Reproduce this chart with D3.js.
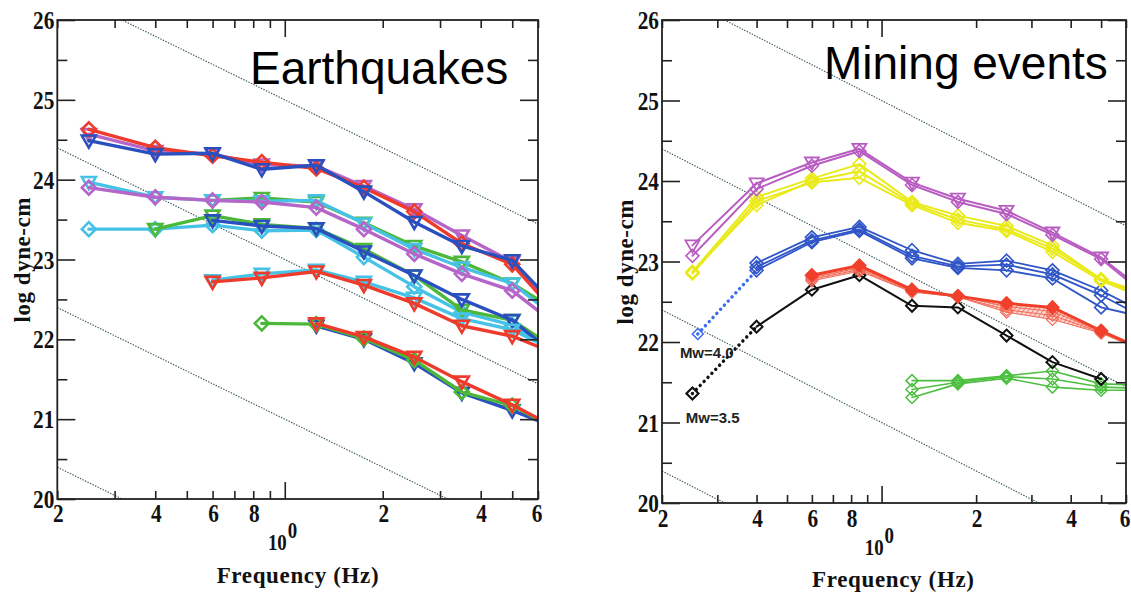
<!DOCTYPE html>
<html><head><meta charset="utf-8">
<script src="https://cdn.jsdelivr.net/npm/d3@7"></script>
<style>body{margin:0;background:#fff}svg{display:block}</style>
</head><body><svg id="c" width="1131" height="595"></svg>
<script>
// ---------- data ----------
const freqs = [0.25, 0.4, 0.6, 0.85, 1.25, 1.75, 2.5, 3.5, 5, 6];
const xMajorVals = [0.2, 0.4, 0.6, 0.8, 2, 4, 6];
const xMajorLabels = ["2", "4", "6", "8", "2", "4", "6"];
const xDecadeVals = [1];
const xMinorVals = [0.3, 0.5, 0.7, 0.9, 3, 5];
const yTickVals = [20, 21, 22, 23, 24, 25, 26];
const yHalfVals = [20.5, 21.5, 22.5, 23.5, 24.5, 25.5];
const refLevels = [25, 23, 21, 19];   // value at 1 Hz of the f^-2 guide lines
const refSlope = -2;

// Earthquakes
const eqRedA   = [24.63, 24.40, 24.30, 24.22, 24.14, 23.90, 23.60, 23.20, 22.94, 22.58];
const eqMagA   = [24.57, 24.36, 24.32, 24.19, 24.17, 23.92, 23.63, 23.30, 22.97, 22.62];
const eqBlueA  = [24.49, 24.32, 24.33, 24.13, 24.18, 23.85, 23.47, 23.17, 22.99, 22.65];
const eqGreenB = [null, null, 23.74, 23.77, 23.72, 23.46, 23.17, 22.97, 22.70, 22.50];
const eqCyanB  = [23.97, 23.78, 23.74, 23.73, 23.74, 23.45, 23.13, 22.90, 22.70, 22.45];
const eqMagB   = [23.90, 23.78, 23.74, 23.72, 23.65, 23.38, 23.07, 22.82, 22.61, 22.36];
const eqCyanC  = [23.38, 23.38, 23.43, 23.36, 23.37, 23.03, 22.66, 22.34, 22.18, 21.97];
const eqGreenC = [null, 23.38, 23.55, 23.44, 23.39, 23.13, 22.80, 22.37, 22.24, 22.03];
const eqBlueC  = [null, null, 23.49, 23.42, 23.39, 23.10, 22.80, 22.50, 22.24, 21.98];
const eqCyanD  = [null, null, 22.74, 22.82, 22.87, 22.72, 22.52, 22.26, 22.12, 21.96];
const eqRedD   = [null, null, 22.72, 22.77, 22.85, 22.68, 22.45, 22.17, 22.04, 21.91];
const eqBlueE  = [null, null, null, null, 22.17, 22.00, 21.70, 21.33, 21.11, 20.98];
const eqGreenE = [null, null, null, 22.20, 22.19, 22.01, 21.74, 21.34, 21.17, 21.00];
const eqRedE   = [null, null, null, null, 22.20, 22.03, 21.78, 21.47, 21.18, 21.01];

// Mining events
const mnGreen1 = [null, null, null, null, 21.52, 21.52, 21.58, 21.64, 21.48, 21.47];
const mnGreen2 = [null, null, null, null, 21.41, 21.50, 21.57, 21.54, 21.44, 21.43];
const mnGreen3 = [null, null, null, null, 21.31, 21.48, 21.55, 21.44, 21.40, 21.40];
const mnBlack  = [null, 22.19, 22.65, 22.83, 22.45, 22.43, 22.08, 21.75, 21.54, null];
const mnRed1   = [null, null, 22.83, 22.95, 22.65, 22.57, 22.48, 22.43, 22.14, 22.00];
const mnRed2   = [null, null, 22.80, 22.92, 22.64, 22.57, 22.44, 22.38, 22.13, 22.00];
const mnRed3   = [null, null, 22.78, 22.90, 22.63, 22.56, 22.40, 22.33, 22.12, 21.99];
const mnRed4   = [null, null, 22.76, 22.88, 22.62, 22.56, 22.37, 22.28, 22.11, 21.98];
const mnBlue1  = [null, 22.98, 23.30, 23.43, 23.14, 22.97, 23.01, 22.89, 22.64, 22.48];
const mnBlue2  = [null, 22.93, 23.26, 23.40, 23.07, 22.94, 22.96, 22.84, 22.58, 22.42];
const mnBlue3  = [null, 22.89, 23.24, 23.38, 23.04, 22.92, 22.89, 22.79, 22.43, 22.36];
const mnYellow1 = [22.87, 23.80, 24.03, 24.21, 23.74, 23.57, 23.44, 23.20, 22.78, 22.68];
const mnYellow2 = [22.87, 23.70, 24.00, 24.12, 23.72, 23.52, 23.40, 23.16, 22.78, 22.66];
const mnYellow3 = [22.85, 23.75, 23.98, 24.04, 23.70, 23.48, 23.38, 23.12, 22.76, 22.64];
const mnMag1   = [23.20, 23.97, 24.23, 24.40, 23.98, 23.78, 23.63, 23.36, 23.05, 22.81];
const mnMag2   = [23.07, 23.90, 24.19, 24.37, 23.95, 23.74, 23.59, 23.33, 23.03, 22.78];
// dotted extensions to the lowest frequency
const mnBlueDotF = [0.26, 0.4];
const mnBlueDot  = [22.10, 22.89];
const mnBlackDotF = [0.25, 0.4];
const mnBlackDot  = [21.36, 22.19];
const mwLabels = ["Mw=4.0", "Mw=3.5"];
const mwLabelPos = [[0.228, 21.80], [0.238, 21.00]];

// ---------- colours ----------
const C = {
  red: "#ee3b2b", mag: "#b665c8", blue: "#2a4fbf", cyan: "#45c2e6", green: "#4bb83a",
  mred: "#f0402c", mmag: "#b85cc2", myel: "#eaea1a", mblue: "#2f55c8", mgreen: "#4cbf40", black: "#111"
};

const svg = d3.select("#c");
svg.append("rect").attr("width", 1131).attr("height", 595).attr("fill", "#fff");
const defs = svg.append("defs");
const pat = defs.append("pattern").attr("id", "hatch").attr("patternUnits", "userSpaceOnUse")
  .attr("width", 4).attr("height", 4).attr("patternTransform", "rotate(35)");
pat.append("rect").attr("width", 4).attr("height", 4).attr("fill", "#fbd3cc");
pat.append("line").attr("x1", 0).attr("y1", 0).attr("x2", 0).attr("y2", 4)
  .attr("stroke", C.mred).attr("stroke-width", 1.3);

const serif = "'Liberation Serif','Times New Roman',serif";
const sans = "'Liberation Sans',Arial,Helvetica,sans-serif";

function panel(opt) {
  const x = d3.scaleLog().domain([0.2, 6]).range(opt.xr);
  const y = d3.scaleLinear().domain([20, 26]).range(opt.yr);
  const g = svg.append("g");
  const cid = "clip" + opt.id;
  defs.append("clipPath").attr("id", cid).append("rect")
    .attr("x", opt.xr[0]).attr("y", opt.yr[1]).attr("width", opt.xr[1] - opt.xr[0]).attr("height", opt.yr[0] - opt.yr[1]);
  const plot = g.append("g").attr("clip-path", `url(#${cid})`);

  // f^-2 guide lines
  const fLine = d3.range(0, 101).map(i => 0.2 * Math.pow(30, i / 100));
  refLevels.forEach(c => {
    plot.append("path")
      .attr("d", d3.line().x(f => x(f)).y(f => y(c + refSlope * Math.log10(f)))(fLine))
      .attr("fill", "none").attr("stroke", "#3d5d62").attr("stroke-width", 1.2)
      .attr("stroke-dasharray", "1.4 1.4");
  });

  // axes
  const H = opt.yr[0], T = opt.yr[1], L = opt.xr[0], R = opt.xr[1];
  const axStyle = sel => { sel.select(".domain").remove(); sel.selectAll("line").attr("stroke", "#222").attr("stroke-width", 1.6); sel.selectAll("text").remove(); };
  g.append("g").attr("transform", `translate(0,${H})`).call(d3.axisBottom(x).tickValues(xMajorVals.concat(xMinorVals)).tickSize(-8)).call(axStyle);
  g.append("g").attr("transform", `translate(0,${H})`).call(d3.axisBottom(x).tickValues(xDecadeVals).tickSize(-17)).call(axStyle);
  g.append("g").attr("transform", `translate(0,${T})`).call(d3.axisTop(x).tickValues(xMajorVals.concat(xMinorVals)).tickSize(-8)).call(axStyle);
  g.append("g").attr("transform", `translate(0,${T})`).call(d3.axisTop(x).tickValues(xDecadeVals).tickSize(-17)).call(axStyle);
  g.append("g").attr("transform", `translate(${L},0)`).call(d3.axisLeft(y).tickValues(yTickVals).tickSize(-18)).call(axStyle);
  g.append("g").attr("transform", `translate(${L},0)`).call(d3.axisLeft(y).tickValues(yHalfVals).tickSize(-10)).call(axStyle);
  g.append("g").attr("transform", `translate(${R},0)`).call(d3.axisRight(y).tickValues(yTickVals).tickSize(-18)).call(axStyle);
  g.append("g").attr("transform", `translate(${R},0)`).call(d3.axisRight(y).tickValues(yHalfVals).tickSize(-10)).call(axStyle);
  g.append("rect").attr("x", L).attr("y", T).attr("width", R - L).attr("height", H - T)
    .attr("fill", "none").attr("stroke", "#222").attr("stroke-width", 1.8);

  // tick labels
  const lab = (tx, ty, s, size, anchor) => g.append("text")
    .attr("transform", `translate(${tx},${ty}) scale(0.82,1)`)
    .attr("text-anchor", anchor || "middle").attr("font-family", serif).attr("font-weight", "bold")
    .attr("font-size", size).attr("fill", "#111").text(s);
  xMajorVals.forEach((v, i) => lab(x(v) + (i === xMajorVals.length - 1 ? -1 : 1), H + opt.xlab, xMajorLabels[i], 26));
  xDecadeVals.forEach(v => {
    lab(x(v) + 2, H + opt.xlab + 28, "10", 23, "end");
    lab(x(v) + 3, H + opt.xlab + 16, "0", 23, "start");
  });
  yTickVals.forEach(v => lab(L - 3, y(v) + 9, String(v), 26, "end"));

  // titles
  g.append("text").attr("x", (L + R) / 2 + opt.xtdx).attr("y", H + opt.xtdy)
    .attr("text-anchor", "middle").attr("font-family", serif).attr("font-weight", "bold")
    .attr("font-size", 23).attr("textLength", 162).attr("lengthAdjust", "spacing")
    .attr("fill", "#111").text("Frequency (Hz)");
  g.append("text").attr("transform", `translate(${opt.ytx},${opt.yty}) rotate(-90)`)
    .attr("text-anchor", "middle").attr("font-family", serif).attr("font-weight", "bold")
    .attr("font-size", 23).attr("textLength", 125).attr("lengthAdjust", "spacing")
    .attr("fill", "#111").text("log dyne-cm");
  g.append("text").attr("x", opt.tx).attr("y", opt.ty).attr("font-family", sans)
    .attr("font-size", 46).attr("fill", "#000").text(opt.title);

  return { x, y, plot, g };
}

const tri = "M-7,-5 L7,-5 L0,7 Z";
function dia(r) { return `M0,${-r} L${r},0 L0,${r} L${-r},0 Z`; }

function drawSeries(p, vals, s, fx) {
  const fs = fx || freqs;
  const pts = vals.map((v, i) => [fs[i], v]);
  const line = d3.line().defined(d => d[1] != null).x(d => p.x(d[0])).y(d => p.y(d[1]));
  if (s.w > 0) p.plot.append("path").attr("d", line(pts)).attr("fill", "none").attr("stroke", s.color)
    .attr("stroke-width", s.w).attr("stroke-linejoin", "round").attr("stroke-linecap", "round")
    .attr("stroke-dasharray", s.dash || null);
  if (s.marker === "none") return;
  const mk = pts.filter(d => d[1] != null && d[0] <= 5.5);
  p.plot.selectAll(null).data(mk).enter().append("path")
    .attr("transform", d => `translate(${p.x(d[0])},${p.y(d[1])})`)
    .attr("d", s.marker === "tri" ? tri : dia(s.r || 7))
    .attr("fill", s.fill || "none").attr("stroke", s.color).attr("stroke-width", s.mw || 2.4);
}

// ---------- left panel ----------
const pL = panel({ id: "L", xr: [57.3, 538], yr: [499, 20], xlab: 23, xtdx: 0, xtdy: 84, ytx: 30, yty: 260,
  tx: 250, ty: 84, title: "Earthquakes" });
const eqW = 3.4;
[
  [eqCyanC, C.cyan, "dia"], [eqGreenC, C.green, "tri"], [eqBlueC, C.blue, "tri"],
  [eqGreenB, C.green, "tri"], [eqCyanB, C.cyan, "tri"], [eqMagB, C.mag, "dia"],
  [eqMagA, C.mag, "tri"], [eqRedA, C.red, "dia"], [eqBlueA, C.blue, "tri"],
  [eqCyanD, C.cyan, "tri"], [eqRedD, C.red, "tri"],
  [eqBlueE, C.blue, "tri"], [eqGreenE, C.green, "dia"], [eqRedE, C.red, "tri"]
].forEach(([v, col, m]) => drawSeries(pL, v, { color: col, w: eqW, marker: m, mw: 2.6 }));

// ---------- right panel ----------
const pR = panel({ id: "R", xr: [662, 1126], yr: [503, 20], xlab: 24, xtdx: -1, xtdy: 84, ytx: 633, yty: 262,
  tx: 824, ty: 79, title: "Mining events" });

// hatched band of red group
const band = freqs.map((f, i) => [f, mnRed1[i], mnRed4[i]]).filter(d => d[1] != null);
pR.plot.append("path").attr("d", d3.area().x(d => pR.x(d[0])).y0(d => pR.y(d[2])).y1(d => pR.y(d[1]))(band))
  .attr("fill", "url(#hatch)").attr("opacity", 0.9);

[mnGreen3, mnGreen2, mnGreen1].forEach(v => drawSeries(pR, v, { color: C.mgreen, w: 1.6, marker: "dia", r: 6, mw: 1.5 }));
drawSeries(pR, mnBlackDot, { color: C.black, w: 3.4, marker: "none", dash: "0.1 5.5" }, mnBlackDotF);
drawSeries(pR, [mnBlackDot[0]], { color: C.black, w: 0, marker: "dia", r: 6, mw: 2.2 }, mnBlackDotF);
drawSeries(pR, mnBlack, { color: C.black, w: 2, marker: "dia", r: 6, mw: 2 });
drawSeries(pR, mnRed4, { color: "#f36a55", w: 1, marker: "dia", r: 6, mw: 1.2 });
drawSeries(pR, mnRed3, { color: "#f36a55", w: 1, marker: "dia", r: 6, mw: 1.2 });
drawSeries(pR, mnRed2, { color: "#f36a55", w: 1, marker: "dia", r: 6, mw: 1.2 });
drawSeries(pR, mnRed1, { color: C.mred, w: 3, marker: "dia", r: 6.5, mw: 1.5, fill: C.mred });
drawSeries(pR, mnBlueDot, { color: "#3a6cf0", w: 3.4, marker: "none", dash: "0.1 5.5" }, mnBlueDotF);
drawSeries(pR, [mnBlueDot[0]], { color: "#3a6cf0", w: 0, marker: "dia", r: 5.5, mw: 1.5 }, mnBlueDotF);
[mnBlue3, mnBlue2, mnBlue1].forEach(v => drawSeries(pR, v, { color: C.mblue, w: 1.8, marker: "dia", r: 6.5, mw: 1.6 }));
[mnYellow3, mnYellow2, mnYellow1].forEach(v => drawSeries(pR, v, { color: C.myel, w: 2, marker: "dia", r: 6.5, mw: 1.6 }));
drawSeries(pR, mnMag2, { color: C.mmag, w: 2, marker: "dia", r: 6.5, mw: 1.6 });
drawSeries(pR, mnMag1, { color: C.mmag, w: 2, marker: "tri", mw: 1.8 });

mwLabels.forEach((t, i) => pR.g.append("text").attr("x", pR.x(mwLabelPos[i][0])).attr("y", pR.y(mwLabelPos[i][1]))
  .attr("font-family", sans).attr("font-weight", "bold").attr("font-size", 15).attr("fill", "#222").text(t));
</script></body></html>
